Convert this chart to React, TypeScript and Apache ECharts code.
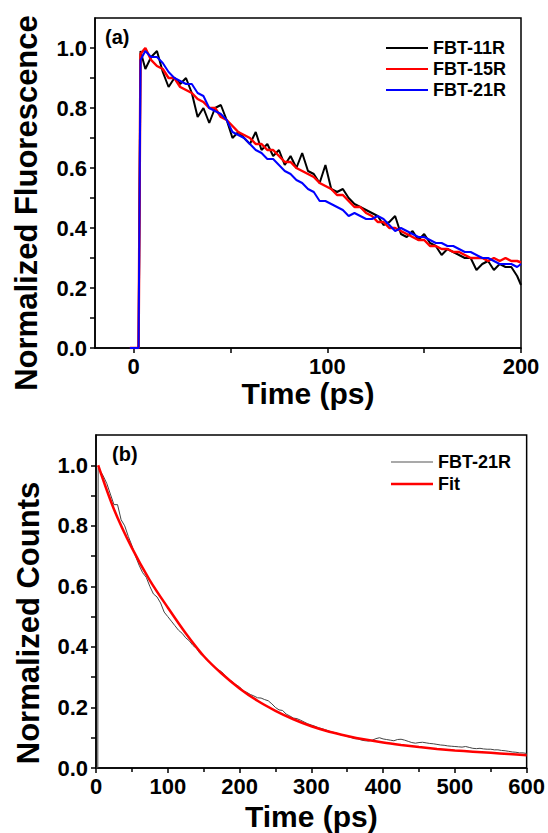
import React, { useEffect, useRef } from "react";
import * as echarts from "echarts";

// ---------- Panel (a) data ----------
const TIME_A = [-2, 2.5, 3.5, 6, 9, 12, 15, 18, 21, 24, 27, 30, 33, 36, 39, 42, 45, 48, 51, 54, 57, 60, 63, 66, 69, 72, 75, 78, 81, 84, 87, 90, 93, 96, 99, 102, 105, 108, 111, 114, 117, 120, 123, 126, 129, 132, 135, 138, 141, 144, 147, 150, 153, 156, 159, 162, 165, 168, 171, 174, 177, 180, 183, 186, 189, 192, 195, 198, 200];
const FBT_11R = [0, 0, 0.99, 0.93, 0.97, 0.99, 0.92, 0.87, 0.90, 0.88, 0.90, 0.85, 0.77, 0.80, 0.75, 0.80, 0.81, 0.76, 0.70, 0.72, 0.70, 0.68, 0.72, 0.66, 0.68, 0.64, 0.66, 0.61, 0.64, 0.60, 0.65, 0.59, 0.58, 0.55, 0.61, 0.53, 0.52, 0.53, 0.50, 0.48, 0.47, 0.46, 0.45, 0.44, 0.41, 0.42, 0.44, 0.38, 0.37, 0.39, 0.36, 0.38, 0.35, 0.34, 0.31, 0.33, 0.32, 0.31, 0.30, 0.30, 0.26, 0.28, 0.29, 0.26, 0.28, 0.27, 0.27, 0.24, 0.21];
const FBT_15R = [0, 0, 0.98, 1.0, 0.96, 0.94, 0.93, 0.90, 0.90, 0.87, 0.86, 0.85, 0.83, 0.82, 0.80, 0.80, 0.77, 0.76, 0.74, 0.72, 0.71, 0.70, 0.68, 0.68, 0.66, 0.66, 0.64, 0.62, 0.62, 0.60, 0.59, 0.58, 0.57, 0.55, 0.54, 0.53, 0.51, 0.51, 0.49, 0.47, 0.47, 0.45, 0.44, 0.42, 0.42, 0.40, 0.40, 0.39, 0.38, 0.37, 0.36, 0.36, 0.34, 0.34, 0.33, 0.33, 0.32, 0.32, 0.31, 0.30, 0.30, 0.30, 0.29, 0.30, 0.29, 0.30, 0.29, 0.29, 0.285];
const FBT_21R = [0, 0, 0.96, 0.99, 0.97, 0.97, 0.95, 0.92, 0.90, 0.89, 0.88, 0.88, 0.85, 0.84, 0.80, 0.79, 0.78, 0.76, 0.72, 0.71, 0.70, 0.68, 0.66, 0.65, 0.63, 0.63, 0.61, 0.59, 0.58, 0.56, 0.55, 0.53, 0.52, 0.49, 0.49, 0.48, 0.47, 0.46, 0.44, 0.45, 0.44, 0.43, 0.43, 0.44, 0.43, 0.41, 0.39, 0.40, 0.39, 0.38, 0.37, 0.37, 0.36, 0.35, 0.35, 0.34, 0.34, 0.33, 0.32, 0.32, 0.31, 0.30, 0.30, 0.29, 0.28, 0.28, 0.28, 0.27, 0.28];

// ---------- Panel (b) data ----------
const TIME_B = [0, 2.5, 3, 5, 10, 15, 20, 25, 30, 35, 40, 45, 50, 55, 60, 65, 70, 75, 80, 85, 90, 95, 100, 105, 110, 115, 120, 125, 130, 135, 140, 145, 150, 155, 160, 165, 170, 175, 180, 185, 190, 195, 200, 205, 210, 215, 220, 225, 230, 235, 240, 245, 250, 255, 260, 265, 270, 275, 280, 285, 290, 295, 300, 305, 310, 315, 320, 325, 330, 335, 340, 345, 350, 355, 360, 365, 370, 375, 380, 385, 390, 395, 400, 405, 410, 415, 420, 425, 430, 435, 440, 445, 450, 455, 460, 465, 470, 475, 480, 485, 490, 495, 500, 505, 510, 515, 520, 525, 530, 535, 540, 545, 550, 555, 560, 565, 570, 575, 580, 585, 590, 595, 600];
const COUNTS_B = [0, 0, 0.99, 0.985, 0.965, 0.94, 0.905, 0.87, 0.87, 0.82, 0.80, 0.765, 0.735, 0.70, 0.67, 0.645, 0.63, 0.60, 0.575, 0.565, 0.545, 0.515, 0.50, 0.485, 0.47, 0.455, 0.445, 0.43, 0.42, 0.405, 0.395, 0.378, 0.368, 0.355, 0.345, 0.335, 0.325, 0.318, 0.305, 0.292, 0.285, 0.275, 0.268, 0.255, 0.25, 0.243, 0.238, 0.232, 0.231, 0.226, 0.222, 0.212, 0.2, 0.192, 0.19, 0.178, 0.172, 0.165, 0.163, 0.158, 0.152, 0.146, 0.142, 0.138, 0.133, 0.13, 0.126, 0.122, 0.118, 0.116, 0.11, 0.108, 0.104, 0.101, 0.097, 0.096, 0.092, 0.09, 0.089, 0.092, 0.097, 0.1, 0.096, 0.094, 0.092, 0.09, 0.094, 0.095, 0.092, 0.088, 0.084, 0.082, 0.084, 0.085, 0.083, 0.081, 0.08, 0.078, 0.076, 0.075, 0.073, 0.072, 0.071, 0.07, 0.069, 0.071, 0.068, 0.065, 0.064, 0.065, 0.063, 0.062, 0.062, 0.06, 0.06, 0.058, 0.057, 0.055, 0.053, 0.052, 0.05, 0.05, 0.048];
const FIT_T = [3, 25, 50, 75, 100, 125, 150, 175, 200, 225, 250, 275, 300, 325, 350, 375, 400, 425, 450, 475, 500, 525, 550, 575, 600];
const FIT_V = [1.0, 0.855, 0.727, 0.62, 0.53, 0.445, 0.37, 0.312, 0.263, 0.222, 0.189, 0.161, 0.138, 0.12, 0.106, 0.094, 0.084, 0.076, 0.069, 0.063, 0.058, 0.054, 0.05, 0.046, 0.042];

const X_LABELS_A = [0, 100, 200];
const X_TICKS_A = [0, 50, 100, 150, 200];
const Y_LABELS = [0, 0.2, 0.4, 0.6, 0.8, 1.0];
const Y_TICKS = [0, 0.1, 0.2, 0.3, 0.4, 0.5, 0.6, 0.7, 0.8, 0.9, 1.0];

const FONT = '"Liberation Sans", Arial, Helvetica, sans-serif';

const zip = (xs: number[], ys: number[]) => xs.map((x, i) => [x, ys[i]]);

export default function App() {
  const ref = useRef<HTMLDivElement>(null);
  useEffect(() => {
    if (!ref.current) return;
    const chart = echarts.init(ref.current, null, { renderer: "svg" });
    const axisLine = { onZero: false, lineStyle: { color: "#000", width: 1.5 } };
    const tickStyle = { color: "#000", width: 1.5 };
    const labelStyle = { fontSize: 22, fontWeight: "bold", color: "#000", fontFamily: FONT };
    const nameStyle = { fontSize: 30, fontWeight: "bold", color: "#000", fontFamily: FONT };
    const yAxisCommon = {
      type: "value",
      min: 0,
      max: 1.1,
      axisLine,
      axisTick: { customValues: Y_TICKS, length: 5, lineStyle: tickStyle },
      axisLabel: { ...labelStyle, customValues: Y_LABELS, margin: 8, formatter: (v: number) => v.toFixed(1) },
      splitLine: { show: false },
    };
    const legendText = { fontSize: 18, fontWeight: "bold", color: "#000", fontFamily: FONT, lineHeight: 18 };
    chart.setOption({
      animation: false,
      backgroundColor: "#fff",
      grid: [
        { left: 95, top: 18, width: 426, height: 330, show: true, borderColor: "#000", borderWidth: 1.5 },
        { left: 96, top: 435, width: 431, height: 333, show: true, borderColor: "#000", borderWidth: 1.5 },
      ],
      xAxis: [
        {
          gridIndex: 0,
          type: "value",
          min: -20,
          max: 200,
          axisLine,
          axisTick: { customValues: X_TICKS_A, length: 5, lineStyle: tickStyle },
          axisLabel: { ...labelStyle, customValues: X_LABELS_A, margin: 7 },
          splitLine: { show: false },
          name: "Time (ps)",
          nameLocation: "middle",
          nameGap: 30,
          nameTextStyle: nameStyle,
        },
        {
          gridIndex: 1,
          type: "value",
          min: 0,
          max: 600,
          interval: 100,
          axisLine,
          axisTick: { length: 5, lineStyle: tickStyle },
          minorTick: { show: true, splitNumber: 2, length: 4, lineStyle: tickStyle },
          axisLabel: { ...labelStyle, margin: 7 },
          splitLine: { show: false },
          name: "Time (ps)",
          nameLocation: "middle",
          nameGap: 33,
          nameTextStyle: nameStyle,
        },
      ],
      yAxis: [
        { gridIndex: 0, ...yAxisCommon },
        { gridIndex: 1, ...yAxisCommon },
      ],
      legend: [
        {
          orient: "vertical",
          left: 381,
          top: 34,
          itemWidth: 42,
          itemHeight: 2,
          itemGap: 3,
          icon: "rect",
          selectedMode: false,
          textStyle: legendText,
          data: [
            { name: "FBT-11R", itemStyle: { color: "#000000" } },
            { name: "FBT-15R", itemStyle: { color: "#ff0000" } },
            { name: "FBT-21R", itemStyle: { color: "#0000ff" } },
          ],
        },
        {
          orient: "vertical",
          left: 386,
          top: 448,
          itemWidth: 42,
          itemHeight: 1,
          icon: "rect",
          selectedMode: false,
          textStyle: legendText,
          data: [{ name: "FBT-21R", itemStyle: { color: "#555555" } }],
        },
        {
          orient: "vertical",
          left: 386,
          top: 470,
          itemWidth: 42,
          itemHeight: 2.5,
          icon: "rect",
          selectedMode: false,
          textStyle: legendText,
          data: [{ name: "Fit", itemStyle: { color: "#ff0000" } }],
        },
      ],
      series: [
        {
          name: "FBT-11R", type: "line", xAxisIndex: 0, yAxisIndex: 0, showSymbol: false,
          data: zip(TIME_A, FBT_11R), lineStyle: { color: "#000000", width: 2 }, itemStyle: { color: "#000000" },
        },
        {
          name: "FBT-15R", type: "line", xAxisIndex: 0, yAxisIndex: 0, showSymbol: false,
          data: zip(TIME_A, FBT_15R), lineStyle: { color: "#ff0000", width: 2.5 }, itemStyle: { color: "#ff0000" },
        },
        {
          name: "FBT-21R", type: "line", xAxisIndex: 0, yAxisIndex: 0, showSymbol: false,
          data: zip(TIME_A, FBT_21R), lineStyle: { color: "#0000ff", width: 2 }, itemStyle: { color: "#0000ff" },
        },
        {
          name: "FBT-21R", type: "line", xAxisIndex: 1, yAxisIndex: 1, showSymbol: false,
          data: zip(TIME_B, COUNTS_B), lineStyle: { color: "#444444", width: 1 }, itemStyle: { color: "#555555" },
        },
        {
          name: "Fit", type: "line", xAxisIndex: 1, yAxisIndex: 1, showSymbol: false, smooth: 0.3,
          data: zip(FIT_T, FIT_V), lineStyle: { color: "#ff0000", width: 2.5 }, itemStyle: { color: "#ff0000" },
        },
      ],
      graphic: [
        { type: "text", left: 105, top: 27, style: { text: "(a)", fill: "#000", font: `bold 20px ${FONT}` } },
        { type: "text", left: 112, top: 444, style: { text: "(b)", fill: "#000", font: `bold 20px ${FONT}` } },
        {
          type: "text", x: 26, y: 203, rotation: Math.PI / 2,
          style: { text: "Normalized Fluorescence", align: "center", verticalAlign: "middle", fill: "#000", font: `bold 31px ${FONT}` },
        },
        {
          type: "text", x: 28, y: 623, rotation: Math.PI / 2,
          style: { text: "Normalized Counts", align: "center", verticalAlign: "middle", fill: "#000", font: `bold 31px ${FONT}` },
        },
      ],
    });
    return () => chart.dispose();
  }, []);
  return <div ref={ref} style={{ position: "fixed", left: 0, top: 0, width: 548, height: 833 }} />;
}
